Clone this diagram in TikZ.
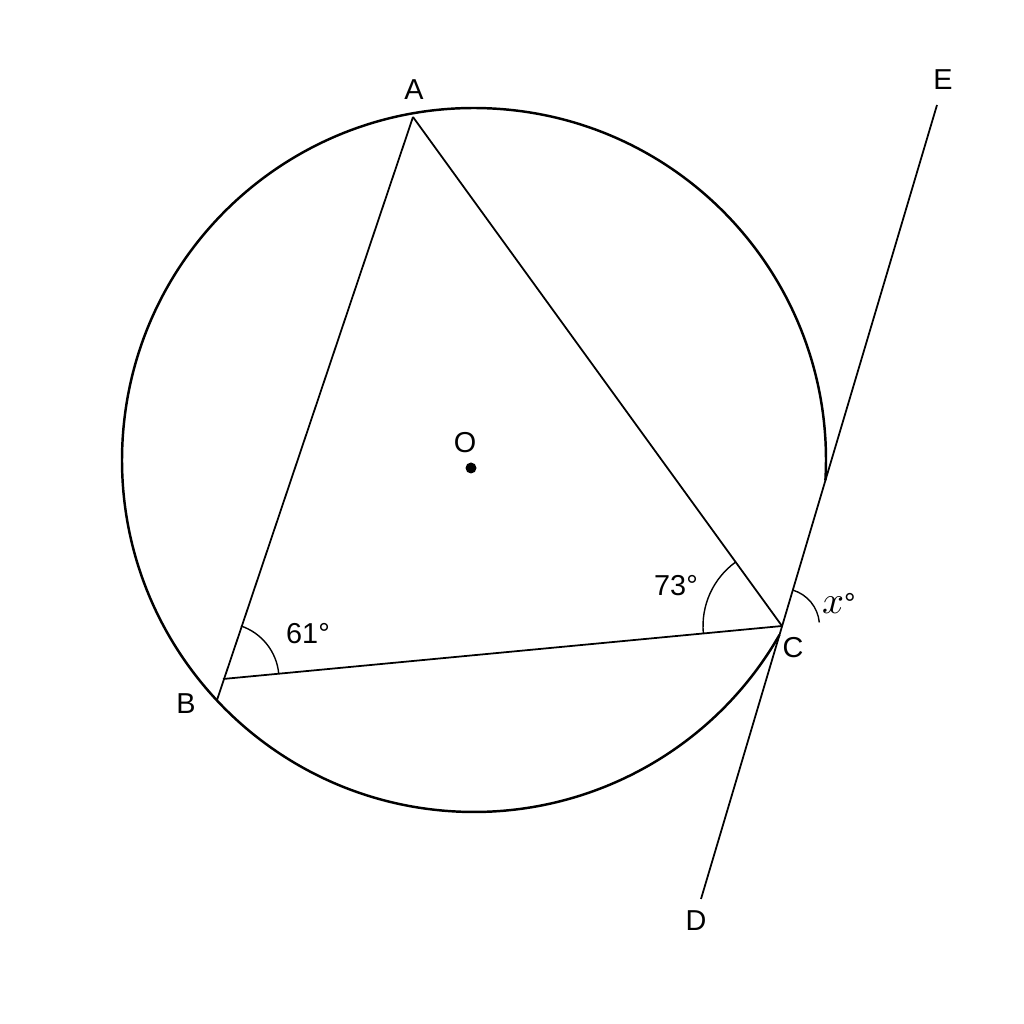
\documentclass[tikz,border=0pt]{standalone}
\usepackage{fontspec}
\setmainfont{Liberation Sans}
\begin{document}
\begin{tikzpicture}[circ/.style={line width=0.7pt},
    side/.style={line width=0.5pt},
    anglearc/.style={line width=0.4pt},
    lbl/.style={font=\fontsize{8.2}{10}\selectfont, inner sep=0pt}]
    \fill[white] (0,0) rectangle (10.24,10.24);
    \useasboundingbox (0,0) rectangle (10.24,10.24);
    \coordinate (O) at (4.74,5.64);
    \coordinate (A) at (4.13,9.07);
    \coordinate (B) at (2.23,3.45);
    \coordinate (Bc) at (2.17,3.24);
    \coordinate (C) at (7.82,3.98);
    \coordinate (D) at (7.01,1.25);
    \coordinate (E) at (9.37,9.19);

    \draw[circ] ([shift={(-3.32:3.52)}]O) arc[start angle=-3.32, end angle=330.22, radius=3.52];
    \draw[side] (Bc)--(A);
    \draw[side] (A)--(C);
    \draw[side] (C)--(B);
    \draw[side] (D)--(E);
    \fill (4.71,5.56) circle (0.055);

    \draw[anglearc] ([shift={(5.42:0.56)}]B) arc[start angle=5.42, end angle=71.3, radius=0.56];
    \draw[anglearc] ([shift={(125.94:0.79)}]C) arc[start angle=125.94, end angle=185.42, radius=0.79];
    \draw[anglearc] ([shift={(5.42:0.375)}]C) arc[start angle=5.42, end angle=73.43, radius=0.375];

    \node[lbl] (labA) at (4.14,9.34) {A};
    \node[lbl] (labE) at (9.43,9.44) {E};
    \node[lbl] (labO) at (4.65,5.81) {O};
    \node[lbl] (labB) at (1.86,3.20) {B};
    \node[lbl] (labC) at (7.93,3.76) {C};
    \node[lbl] (labD) at (6.96,1.03) {D};
    \node[lbl] (angB) at (3.08,3.90) {61°};
    \node[lbl] (angC) at (6.76,4.38) {73°};
    \node[lbl] (angX) at (8.39,4.21) {{\fontsize{10.5}{12}\selectfont$x$}°};
\end{tikzpicture}
\end{document}
